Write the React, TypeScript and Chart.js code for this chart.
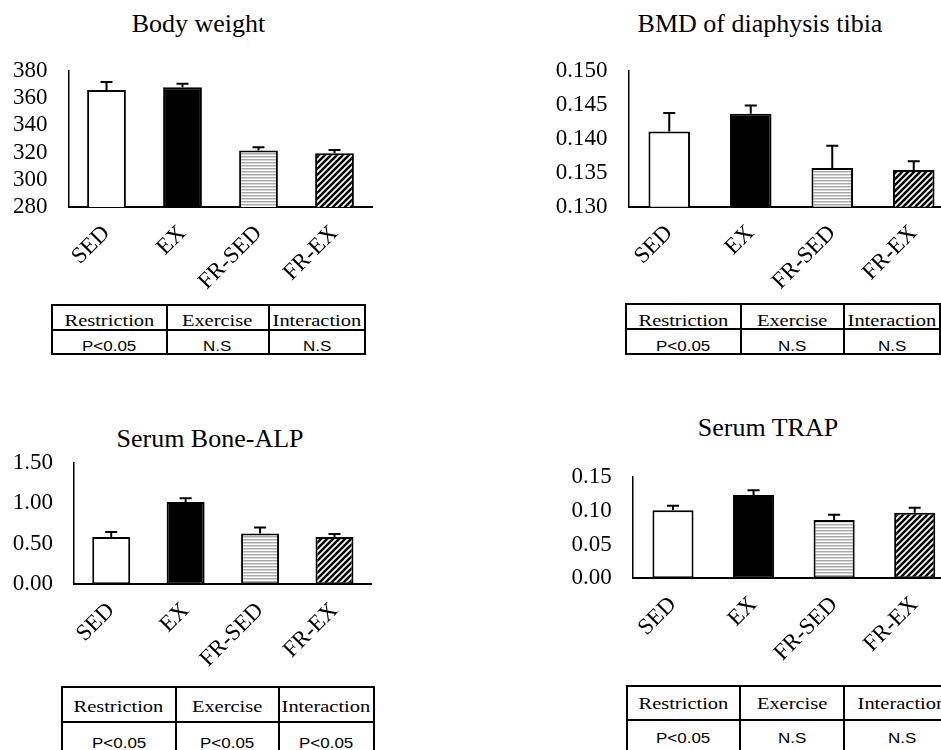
import React, { useEffect, useRef } from 'react';
import { Chart, registerables } from 'chart.js';

Chart.register(...registerables);

// ---------- data ----------
const categories = ['SED', 'EX', 'FR-SED', 'FR-EX'];

const bodyWeight = [366, 368, 321.5, 319.5];
const bodyWeightSem = [6, 2.7, 2.5, 2.5];
const bodyWeightTicks = [280, 300, 320, 340, 360, 380];

const bmdTibia = [0.1411, 0.1437, 0.1357, 0.1354];
const bmdTibiaSem = [0.0027, 0.0012, 0.0033, 0.0013];
const bmdTibiaTicks = [0.13, 0.135, 0.14, 0.145, 0.15];

const boneAlp = [0.583, 1.014, 0.628, 0.583];
const boneAlpSem = [0.062, 0.046, 0.074, 0.037];
const boneAlpTicks = [0, 0.5, 1.0, 1.5];

const trap = [0.1007, 0.1233, 0.0863, 0.0971];
const trapSem = [0.0068, 0.007, 0.0079, 0.0075];
const trapTicks = [0, 0.05, 0.1, 0.15];

const tableHeaders = ['Restriction', 'Exercise', 'Interaction'];
const bodyWeightStats = ['P<0.05', 'N.S', 'N.S'];
const bmdTibiaStats = ['P<0.05', 'N.S', 'N.S'];
const boneAlpStats = ['P<0.05', 'P<0.05', 'P<0.05'];
const trapStats = ['P<0.05', 'N.S', 'N.S'];

// ---------- fills ----------
function makeStripePattern(ctx: CanvasRenderingContext2D) {
  const c = document.createElement('canvas');
  c.width = 4;
  c.height = 3;
  const x = c.getContext('2d')!;
  x.fillStyle = '#ffffff';
  x.fillRect(0, 0, 4, 3);
  x.fillStyle = '#a8a8a8';
  x.fillRect(0, 0, 4, 1);
  x.fillStyle = '#d6d6d6';
  x.fillRect(0, 1, 4, 1);
  return ctx.createPattern(c, 'repeat');
}

function makeDiagPattern(ctx: CanvasRenderingContext2D) {
  const s = 6;
  const c = document.createElement('canvas');
  c.width = s;
  c.height = s;
  const x = c.getContext('2d')!;
  x.fillStyle = '#ffffff';
  x.fillRect(0, 0, s, s);
  x.strokeStyle = '#000000';
  x.lineWidth = 2.5;
  x.beginPath();
  x.moveTo(-1, s + 1);
  x.lineTo(s + 1, -1);
  x.moveTo(-2, 2);
  x.lineTo(2, -2);
  x.moveTo(s - 2, s + 2);
  x.lineTo(s + 2, s - 2);
  x.stroke();
  return ctx.createPattern(c, 'repeat');
}

const SERIF = '"Liberation Serif", "Times New Roman", serif';
const SANS = '"Liberation Sans", Arial, sans-serif';

type PanelProps = {
  left: number;
  top: number;
  width: number;
  height: number;
  yAxisWidth: number;
  xAxisHeight: number;
  padTop: number;
  padRight: number;
  values: number[];
  sem: number[];
  ticks: number[];
  decimals: number;
};

function BarPanel(p: PanelProps) {
  const ref = useRef<HTMLCanvasElement>(null);
  useEffect(() => {
    const canvas = ref.current!;
    const ctx = canvas.getContext('2d')!;
    const fills = ['#ffffff', '#000000', makeStripePattern(ctx), makeDiagPattern(ctx)];
    const errorBars = {
      id: 'errorBars',
      afterDatasetsDraw(chart: any) {
        const meta = chart.getDatasetMeta(0);
        const y = chart.scales.y;
        const c = chart.ctx;
        c.save();
        c.strokeStyle = '#000';
        c.lineWidth = 2;
        meta.data.forEach((bar: any, i: number) => {
          const topPx = y.getPixelForValue(p.values[i] + p.sem[i]);
          c.beginPath();
          c.moveTo(bar.x, bar.y);
          c.lineTo(bar.x, topPx);
          c.moveTo(bar.x - 6, topPx);
          c.lineTo(bar.x + 6, topPx);
          c.stroke();
        });
        c.restore();
      },
    };
    const chart = new Chart(canvas, {
      type: 'bar',
      data: {
        labels: categories,
        datasets: [
          {
            data: p.values,
            backgroundColor: fills as any,
            borderColor: '#000000',
            borderWidth: 2,
            borderSkipped: false,
            barPercentage: 0.51,
            categoryPercentage: 1,
          },
        ],
      },
      options: {
        responsive: false,
        animation: false,
        devicePixelRatio: 1,
        layout: { padding: { top: p.padTop, right: p.padRight, left: 0, bottom: 0 } },
        plugins: {
          legend: { display: false },
          tooltip: { enabled: false },
          title: { display: false },
        },
        scales: {
          x: {
            grid: { display: false, drawTicks: false },
            border: { display: true, color: '#000', width: 2 },
            ticks: {
              color: '#000',
              font: { family: SERIF, size: 23 },
              minRotation: 45,
              maxRotation: 45,
              padding: 13,
              autoSkip: false,
            },
            afterFit: (s: any) => {
              s.height = p.xAxisHeight;
            },
          },
          y: {
            min: p.ticks[0],
            max: p.ticks[p.ticks.length - 1],
            beginAtZero: false,
            grid: { display: false, drawTicks: false },
            border: { display: true, color: '#000', width: 1.5 },
            ticks: {
              color: '#000',
              font: { family: SERIF, size: 23 },
              padding: 21,
              autoSkip: false,
              callback: (v: any) => Number(v).toFixed(p.decimals),
            },
            afterBuildTicks: (axis: any) => {
              axis.ticks = p.ticks.map((v) => ({ value: v }));
            },
            afterFit: (s: any) => {
              s.width = p.yAxisWidth;
            },
          },
        },
      },
      plugins: [errorBars],
    });
    return () => chart.destroy();
  }, []);
  return (
    <canvas
      ref={ref}
      width={p.width}
      height={p.height}
      style={{ position: 'absolute', left: p.left, top: p.top, width: p.width, height: p.height }}
    />
  );
}

function Title({ text, cx, top }: { text: string; cx: number; top: number }) {
  return (
    <div
      style={{
        position: 'absolute',
        left: cx - 200,
        top,
        width: 400,
        textAlign: 'center',
        fontFamily: SERIF,
        fontSize: 26,
        lineHeight: '26px',
        color: '#000',
        whiteSpace: 'nowrap',
      }}
    >
      {text}
    </div>
  );
}

type TableProps = {
  cols: number[];
  rows: number[];
  values: string[];
  headBase: number;
  valBase: number;
};

function StatTable({ cols, rows, values, headBase, valBase }: TableProps) {
  const cells: React.ReactNode[] = [];
  const rowsText = [tableHeaders, values];
  for (let r = 0; r < 2; r++) {
    for (let c = 0; c < 3; c++) {
      const isHead = r === 0;
      const fs = isHead ? 17.5 : 14.5;
      const base = isHead ? headBase : valBase;
      const pad = base - 1 - (isHead ? 14.65 : 12.27);
      cells.push(
        <div
          key={r + '-' + c}
          style={{
            position: 'absolute',
            boxSizing: 'border-box',
            left: cols[c] - 1,
            top: rows[r] - 1,
            width: cols[c + 1] - cols[c] + 2,
            height: rows[r + 1] - rows[r] + 2,
            border: '2px solid #000',
            paddingTop: pad,
            textAlign: 'center',
            fontFamily: isHead ? SERIF : SANS,
            fontSize: fs,
            lineHeight: '1',
            color: '#000',
            whiteSpace: 'nowrap',
            overflow: 'visible',
          }}
        >
          <span style={{ display: 'inline-block', transform: 'scaleX(1.17)' }}>{rowsText[r][c]}</span>
        </div>
      );
    }
  }
  return <>{cells}</>;
}

export default function App() {
  return (
    <div
      style={{
        position: 'absolute',
        left: 0,
        top: 0,
        width: 941,
        height: 750,
        overflow: 'hidden',
        background: '#fff',
      }}
    >
      <Title text="Body weight" cx={198.5} top={10.5} />
      <Title text="BMD of diaphysis tibia" cx={760} top={10.5} />
      <Title text="Serum Bone-ALP" cx={210} top={426} />
      <Title text="Serum TRAP" cx={768} top={415} />

      <BarPanel
        left={0}
        top={0}
        width={400}
        height={290}
        yAxisWidth={68.5}
        xAxisHeight={83}
        padTop={71}
        padRight={27.5}
        values={bodyWeight}
        sem={bodyWeightSem}
        ticks={bodyWeightTicks}
        decimals={0}
      />
      <BarPanel
        left={480}
        top={0}
        width={560}
        height={290}
        yAxisWidth={148.5}
        xAxisHeight={83.3}
        padTop={71}
        padRight={85.5}
        values={bmdTibia}
        sem={bmdTibiaSem}
        ticks={bmdTibiaTicks}
        decimals={3}
      />
      <BarPanel
        left={0}
        top={410}
        width={400}
        height={270}
        yAxisWidth={74}
        xAxisHeight={95.7}
        padTop={52.7}
        padRight={28.3}
        values={boneAlp}
        sem={boneAlpSem}
        ticks={boneAlpTicks}
        decimals={2}
      />
      <BarPanel
        left={480}
        top={410}
        width={560}
        height={270}
        yAxisWidth={152.7}
        xAxisHeight={101.7}
        padTop={67}
        padRight={85}
        values={trap}
        sem={trapSem}
        ticks={trapTicks}
        decimals={2}
      />

      <StatTable
        cols={[52, 166.5, 268.5, 365]}
        rows={[304.5, 329.5, 354]}
        values={bodyWeightStats}
        headBase={22.2}
        valBase={22.2}
      />
      <StatTable
        cols={[626, 740.5, 843.5, 940]}
        rows={[304, 328.5, 353.5]}
        values={bmdTibiaStats}
        headBase={22.5}
        valBase={22.8}
      />
      <StatTable
        cols={[62, 175.5, 278.5, 374]}
        rows={[687, 721.5, 756]}
        values={boneAlpStats}
        headBase={25.7}
        valBase={26.5}
      />
      <StatTable
        cols={[626.5, 740, 843.5, 960]}
        rows={[685.5, 719.5, 754]}
        values={trapStats}
        headBase={24.5}
        valBase={24}
      />
    </div>
  );
}
